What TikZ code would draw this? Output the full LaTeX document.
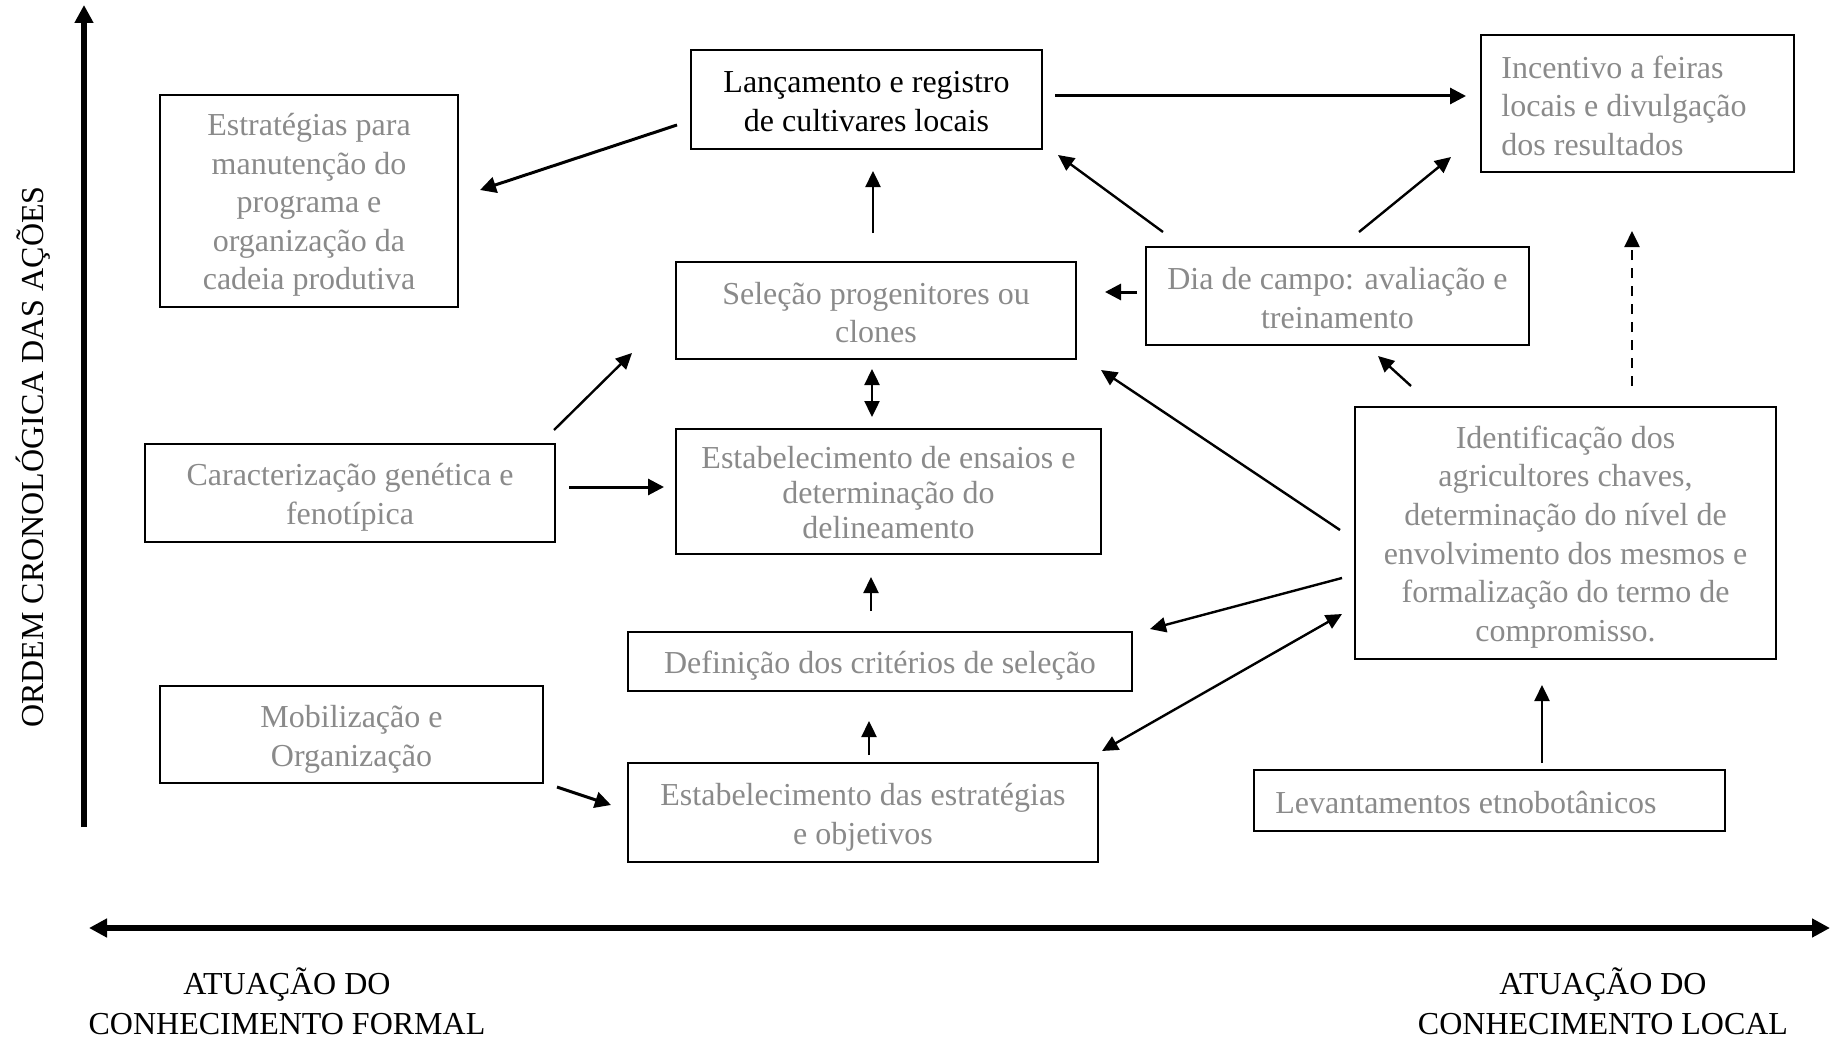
\documentclass[tikz,border=0pt]{standalone}
\usepackage{fontspec}
\setmainfont{Liberation Serif}
\usetikzlibrary{arrows.meta}
\definecolor{txtgray}{RGB}{138,138,138}
\begin{document}
\begin{tikzpicture}[x=0.5pt,y=-0.5pt,
  box/.style={draw, line width=1pt, rectangle, inner sep=0pt},
  tx/.style={inner sep=0pt, align=center, yshift=-2pt,
    font=\fontsize{16pt}{19.3pt}\selectfont},
  gtext/.style={text=txtgray},
  lbl/.style={inner sep=0pt, align=center, font=\fontsize{16pt}{20pt}\selectfont},
  arr/.style={line width=1.2pt, -{Triangle[width=7.5pt,length=8pt]}},
  thickarr/.style={line width=1.5pt, -{Triangle[width=8pt,length=8pt]}},
  dblarr/.style={line width=1.2pt, {Triangle[width=7.5pt,length=8pt]}-{Triangle[width=7.5pt,length=8pt]}},
  axis/.style={line width=3pt}
]
\useasboundingbox (0,0) rectangle (1836,1038);

% axes
\coordinate (yb) at (84,827);
\coordinate (yt) at (84,5);
\draw[axis, -{Triangle[width=9pt,length=9pt]}] (yb) -- (yt);
\coordinate (xl) at (89,928);
\coordinate (xr) at (1830,928);
\draw[axis, {Triangle[width=9pt,length=9pt]}-{Triangle[width=9pt,length=9pt]}] (xl) -- (xr);

\node[lbl, rotate=90] (ylab) at (33,457) {ORDEM CRONOLÓGICA DAS AÇÕES};
\node[lbl] (formal) at (287,1001) {ATUAÇÃO DO\\CONHECIMENTO FORMAL};
\node[lbl] (local) at (1603,1001) {ATUAÇÃO DO\\CONHECIMENTO LOCAL};

% boxes
\node[box, minimum width=175.5pt, minimum height=49.5pt] (lanc) at (866.5,99.5) {};
\node[box, minimum width=156.5pt, minimum height=68.5pt] (inc) at (1637.5,103.5) {};
\node[box, minimum width=149pt, minimum height=106pt] (estr) at (309,201) {};
\node[box, minimum width=200pt, minimum height=48.5pt] (sel) at (876,310.5) {};
\node[box, minimum width=191.5pt, minimum height=49pt] (dia) at (1337.5,296) {};
\node[box, minimum width=205pt, minimum height=49pt] (car) at (350,493) {};
\node[box, minimum width=212.5pt, minimum height=62.5pt] (ens) at (888.5,491.5) {};
\node[box, minimum width=210.5pt, minimum height=126pt] (ide) at (1565.5,533) {};
\node[box, minimum width=252pt, minimum height=29.5pt] (def) at (880,661.5) {};
\node[box, minimum width=191.5pt, minimum height=48.5pt] (mob) at (351.5,734.5) {};
\node[box, minimum width=235pt, minimum height=49.5pt] (est) at (863,812.5) {};
\node[box, minimum width=235.5pt, minimum height=30.5pt] (lev) at (1489.5,800.5) {};

% texts
\node[tx, yshift=1pt] (lancT) at (lanc.center) {Lançamento e registro\\de cultivares locais};
\node[tx, gtext, align=left, anchor=west, yshift=1pt] (incT) at ([xshift=10.5pt]inc.west)
  {Incentivo a feiras\\locais e divulgação\\dos resultados};
\node[tx, gtext] (estrT) at (estr.center)
  {Estratégias para\\manutenção do\\programa e\\organização da\\cadeia produtiva};
\node[tx, gtext, yshift=1pt] (selT) at (sel.center) {Seleção progenitores ou\\clones};
\node[tx, gtext, yshift=1pt] (diaT) at (dia.center) {Dia de campo: avaliação e\\treinamento};
\node[tx, gtext] (carT) at (car.center) {Caracterização genética e\\fenotípica};
\node[tx, gtext, yshift=1.5pt, font=\fontsize{16pt}{17.3pt}\selectfont] (ensT) at (ens.center)
  {Estabelecimento de ensaios e\\determinação do\\delineamento};
\node[tx, gtext] (ideT) at (ide.center)
  {Identificação dos\\agricultores chaves,\\determinação do nível de\\envolvimento dos mesmos e\\formalização do termo de\\compromisso.};
\node[tx, gtext] (defT) at (def.center) {Definição dos critérios de seleção};
\node[tx, gtext, yshift=-0.5pt] (mobT) at (mob.center) {Mobilização e\\Organização};
\node[tx, gtext, yshift=-0.5pt] (estT) at (est.center) {Estabelecimento das estratégias\\e objetivos};
\node[tx, gtext, anchor=west, yshift=1pt] (levT) at ([xshift=11pt]lev.west) {Levantamentos etnobotânicos};

% arrow end points
\coordinate (lancA) at (677,125);   \coordinate (estrA) at (480,190);
\coordinate (lancB) at (1055,96);   \coordinate (incB) at (1466,96);
\coordinate (selC) at (873,233);    \coordinate (lancC) at (873,171);
\coordinate (diaD) at (1163,232);   \coordinate (lancD) at (1058,155);
\coordinate (diaE) at (1359,232);   \coordinate (incE) at (1451,157);
\coordinate (diaF) at (1137,292);   \coordinate (selF) at (1105,292);
\coordinate (selG) at (872,369);    \coordinate (ensG) at (872,417);
\coordinate (carH) at (554,430);    \coordinate (selH) at (632,353);
\coordinate (carI) at (569,487);    \coordinate (ensI) at (664,487);
\coordinate (ideJ) at (1340,530);   \coordinate (selJ) at (1101,370);
\coordinate (ideK) at (1411,386);   \coordinate (diaK) at (1378,356);
\coordinate (ideL) at (1632,386);   \coordinate (incL) at (1632,231);
\coordinate (ideM) at (1342,578);   \coordinate (defM) at (1150,629);
\coordinate (ideN) at (1342,614);   \coordinate (estN) at (1102,751);
\coordinate (defO) at (871,611);    \coordinate (ensO) at (871,577);
\coordinate (estP) at (869,755);    \coordinate (defP) at (869,721);
\coordinate (mobQ) at (557,787);    \coordinate (estQ) at (611,805);
\coordinate (levR) at (1542,763);   \coordinate (ideR) at (1542,685);

\draw[thickarr] (lancA) -- (estrA);
\draw[thickarr] (lancB) -- (incB);
\draw[arr] (selC) -- (lancC);
\draw[arr] (diaD) -- (lancD);
\draw[arr] (diaE) -- (incE);
\draw[thickarr] (diaF) -- (selF);
\draw[dblarr] (selG) -- (ensG);
\draw[arr] (carH) -- (selH);
\draw[thickarr] (carI) -- (ensI);
\draw[arr] (ideJ) -- (selJ);
\draw[arr] (ideK) -- (diaK);
\draw[arr, dash pattern=on 5pt off 4pt] (ideL) -- (incL);
\draw[arr] (ideM) -- (defM);
\draw[dblarr] (ideN) -- (estN);
\draw[arr] (defO) -- (ensO);
\draw[arr] (estP) -- (defP);
\draw[thickarr] (mobQ) -- (estQ);
\draw[arr] (levR) -- (ideR);
\end{tikzpicture}
\end{document}
